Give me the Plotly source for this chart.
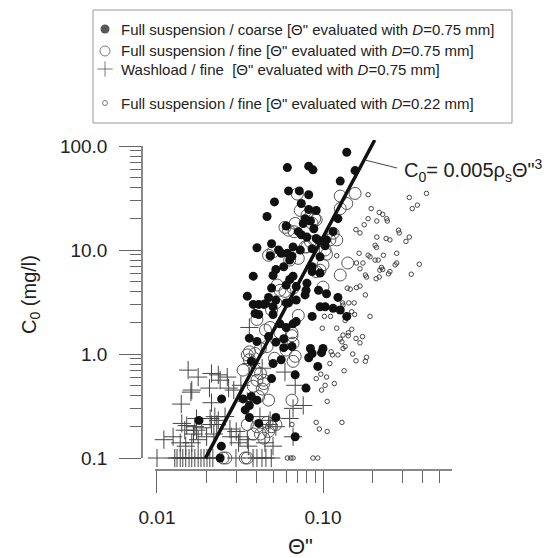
import plotly.graph_objects as go

# the page puts the figure 8 px in from the top-left corner, so the figure is
# 8 px smaller and every layout position (page px) is shifted back by OFF
OFF = 8
W, H = 554 - OFF, 558 - OFF

# ---------------- data ----------------
# Full suspension / coarse  (Theta'' with D = 0.75 mm)
coarse_theta = [
    0.061, 0.082, 0.087, 0.062, 0.082, 0.051, 0.074, 0.046, 0.091, 0.078,
    0.084, 0.076, 0.060, 0.088, 0.071, 0.074, 0.040, 0.049, 0.054, 0.048,
    0.061, 0.065, 0.073, 0.058, 0.052, 0.050, 0.038, 0.086, 0.096, 0.063,
    0.069, 0.049, 0.035, 0.079, 0.094, 0.047, 0.052, 0.038, 0.041, 0.044,
    0.062, 0.069, 0.139, 0.156, 0.127, 0.082, 0.123, 0.115, 0.091, 0.105,
    0.080, 0.103, 0.096, 0.086, 0.080, 0.105, 0.078, 0.123, 0.103, 0.096,
    0.115, 0.086, 0.127, 0.069, 0.139, 0.084, 0.082, 0.098, 0.100, 0.086,
    0.093, 0.068, 0.079, 0.068, 0.041, 0.039, 0.036, 0.040, 0.050, 0.055,
    0.060, 0.066, 0.047, 0.052, 0.058, 0.058, 0.065, 0.050, 0.056, 0.037,
    0.049, 0.0245, 0.033, 0.037, 0.040, 0.036, 0.034, 0.036, 0.0179, 0.041,
    0.052, 0.0244, 0.024, 0.045, 0.050, 0.060, 0.072, 0.094, 0.086, 0.066,
    0.063, 0.056, 0.066, 0.060,
]
coarse_c0 = [
    62, 64, 59, 37, 34, 29, 28, 21, 24, 20,
    19, 18, 17, 16, 15, 14, 10.5, 11.5, 10, 8.8,
    9.3, 8.7, 10, 6.9, 6.5, 5.7, 5.6, 6.9, 6.0, 5.2,
    4.45, 4.3, 3.6, 4.1, 4.1, 3.5, 3.3, 3.0, 3.0, 3.0,
    3.1, 3.3, 87, 58, 46, 24.5, 20, 15, 12.9, 12.5,
    13.3, 11, 8.6, 6.2, 4.8, 3.8, 3.7, 3.5, 2.85, 2.85,
    2.75, 2.3, 2.65, 2.05, 2.3, 1.13, 0.92, 1.03, 1.13, 1.01,
    0.76, 0.63, 0.47, 0.16, 2.4, 2.45, 1.42, 1.32, 2.4, 1.95,
    1.8, 1.95, 1.47, 1.3, 1.4, 1.15, 1.18, 0.81, 0.88, 0.85,
    0.58, 0.37, 0.37, 0.39, 0.36, 0.32, 0.29, 0.245, 0.23, 0.215,
    0.245, 0.13, 0.1, 3.05, 2.85, 3.1, 37, 12.4, 10.3, 10.7,
    8.0, 9.3, 5.6, 4.6,
]

# Full suspension / fine  (Theta'' with D = 0.75 mm)
fine_theta = [
    0.070, 0.073, 0.080, 0.089, 0.062, 0.059, 0.080, 0.084, 0.047, 0.050,
    0.063, 0.071, 0.055, 0.053, 0.103, 0.100, 0.096, 0.100, 0.156, 0.141,
    0.127, 0.127, 0.139, 0.127, 0.091, 0.121, 0.110, 0.115, 0.078, 0.105,
    0.091, 0.066, 0.059, 0.040, 0.035, 0.044, 0.052, 0.049, 0.048, 0.045,
    0.055, 0.065, 0.066, 0.060, 0.036, 0.039, 0.042, 0.046, 0.036, 0.051,
    0.033, 0.039, 0.042, 0.040, 0.038, 0.043, 0.044, 0.041, 0.047, 0.065,
    0.035, 0.040, 0.046, 0.049, 0.052, 0.042, 0.047, 0.038, 0.044, 0.025,
    0.026, 0.034, 0.035, 0.071, 0.065, 0.068, 0.066, 0.068, 0.086, 0.067,
]
fine_c0 = [
    34.5, 24, 21.5, 20, 15.5, 16.5, 10.7, 12, 8.9, 9.6,
    8.0, 8.3, 4.1, 4.6, 10, 7.2, 6.4, 4.4, 35, 7.5,
    5.75, 33, 28, 25, 19.5, 12.5, 12.5, 14.5, 10.7, 9.1,
    6.2, 4.3, 4.0, 2.15, 0.98, 0.52, 3.1, 2.65, 1.8, 1.7,
    1.6, 1.6, 1.27, 1.09, 1.05, 1.01, 1.13, 1.18, 0.88, 0.91,
    0.70, 0.70, 0.65, 0.56, 0.49, 0.46, 0.56, 0.39, 0.36, 0.36,
    0.21, 0.20, 0.22, 0.20, 0.21, 0.17, 0.18, 0.17, 0.155, 0.1,
    0.1, 0.1, 0.1, 2.35, 1.5, 0.95, 0.85, 18, 18, 15,
]

# Washload / fine  (Theta'' with D = 0.75 mm)
wash_theta = [
    0.0154, 0.0177, 0.0213, 0.0234, 0.024, 0.0265, 0.0162, 0.0160, 0.0207, 0.027,
    0.029, 0.0140, 0.0173, 0.0209, 0.0223, 0.0234, 0.0229, 0.0257, 0.0213, 0.0141,
    0.0151, 0.0147, 0.0169, 0.0173, 0.0186, 0.0166, 0.0110, 0.0125, 0.0138, 0.0149,
    0.0162, 0.0177, 0.0199, 0.022, 0.0275, 0.030, 0.0316, 0.031, 0.035, 0.028,
    0.0355, 0.0447, 0.050, 0.0417, 0.048, 0.052, 0.047, 0.066, 0.035, 0.032,
    0.037, 0.043, 0.059, 0.068, 0.076, 0.0213, 0.036, 0.063, 0.066,
    0.0100, 0.0128, 0.0132, 0.0138, 0.0143, 0.0149, 0.0156, 0.0162, 0.0169, 0.0177,
    0.0184, 0.0192, 0.0200, 0.0208, 0.0217, 0.0299, 0.0379, 0.0400, 0.0429, 0.0453,
    0.0488,
]
wash_c0 = [
    0.70, 0.60, 0.65, 0.63, 0.56, 0.60, 0.45, 0.43, 0.47, 0.47,
    0.45, 0.33, 0.24, 0.24, 0.25, 0.23, 0.21, 0.25, 0.21, 0.215,
    0.205, 0.185, 0.20, 0.185, 0.195, 0.17, 0.15, 0.16, 0.14, 0.13,
    0.14, 0.15, 0.16, 0.17, 0.19, 0.18, 0.16, 0.14, 0.15, 0.16,
    0.13, 0.14, 0.13, 0.25, 0.23, 0.20, 0.21, 0.30, 0.35, 0.50,
    0.81, 0.73, 0.67, 0.50, 0.32, 0.34, 1.8, 0.24, 0.16,
    0.1, 0.1, 0.1, 0.1, 0.1, 0.1, 0.1, 0.1, 0.1, 0.1,
    0.1, 0.1, 0.1, 0.1, 0.1, 0.1, 0.1, 0.1, 0.1, 0.1,
    0.1,
]

# Full suspension / fine  (Theta'' with D = 0.22 mm)
small_theta = [
    0.187, 0.331, 0.42, 0.37, 0.345, 0.195, 0.218, 0.229, 0.187, 0.211,
    0.242, 0.244, 0.177, 0.285, 0.288, 0.158, 0.167, 0.211, 0.24, 0.253,
    0.331, 0.316, 0.206, 0.210, 0.231, 0.187, 0.192, 0.278, 0.121, 0.165,
    0.159, 0.174, 0.206, 0.215, 0.278, 0.272, 0.38, 0.167, 0.225, 0.22,
    0.229, 0.253, 0.248, 0.18, 0.183, 0.209, 0.218, 0.34, 0.14, 0.146,
    0.159, 0.167, 0.18, 0.131, 0.143, 0.154,
    0.132, 0.102, 0.111, 0.136, 0.149, 0.155, 0.192, 0.099, 0.121, 0.149,
    0.142, 0.132, 0.142, 0.127, 0.130, 0.173, 0.158, 0.167, 0.136, 0.132,
    0.112, 0.114, 0.123, 0.151, 0.183, 0.18, 0.158, 0.11, 0.134, 0.097,
    0.105, 0.091, 0.103, 0.117, 0.098, 0.106, 0.091, 0.095, 0.106, 0.13,
    0.065, 0.061, 0.064, 0.066, 0.087, 0.093,
]
small_c0 = [
    34, 32, 35, 27, 25, 25, 23, 22, 20, 19,
    20, 19, 17.5, 15.5, 14.6, 15.7, 14.6, 13.3, 12.9, 12.5,
    13.3, 12.1, 11.1, 10.6, 8.9, 8.9, 8.6, 9.3, 8.8, 9.3,
    7.5, 7.5, 8.0, 8.0, 7.5, 7.2, 7.3, 6.6, 6.8, 6.4,
    6.5, 6.2, 5.9, 5.75, 5.5, 5.3, 5.5, 5.85, 4.3, 4.2,
    4.35, 4.5, 3.7, 3.1, 3.1, 3.1,
    2.95, 2.3, 2.3, 2.1, 2.55, 2.4, 2.3, 1.77, 1.77, 1.73,
    1.6, 1.52, 1.5, 1.39, 1.31, 1.47, 1.41, 1.28, 1.18, 1.13,
    1.05, 0.98, 0.98, 1.0, 0.93, 0.85, 0.86, 0.81, 0.69, 0.64,
    0.60, 0.58, 0.50, 0.52, 0.45, 0.35, 0.22, 0.19, 0.18, 0.22,
    0.21, 0.1, 0.1, 0.1, 0.1, 0.1,
]

# fitted relation C0 = 0.005 rho_s Theta''^3  (rho_s = 2650 kg/m3, result in mg/l)
rho_s = 2650
fit_theta = [0.0196, 0.205]
fit_c0 = [0.005 * rho_s * t ** 3 * 1000 for t in fit_theta]

x_major = [0.01, 0.1]
x_major_text = ["0.01", "0.10"]
x_minor = [0.02, 0.03, 0.04, 0.05, 0.06, 0.07, 0.08, 0.09, 0.2, 0.3, 0.4, 0.5]
y_major = [0.1, 1, 10, 100]
y_major_text = ["0.1", "1.0", "10.0", "100.0"]
y_minor = [0.2, 0.3, 0.4, 0.5, 0.6, 0.7, 0.8, 0.9,
           2, 3, 4, 5, 6, 7, 8, 9,
           20, 30, 40, 50, 60, 70, 80, 90]

legend_names = [
    'Full suspension / coarse [Θ" evaluated with <i>D</i>=0.75 mm]',
    'Full suspension / fine [Θ" evaluated with <i>D</i>=0.75 mm]',
    'Washload / fine  [Θ" evaluated with <i>D</i>=0.75 mm]',
    'Full suspension / fine [Θ" evaluated with <i>D</i>=0.22 mm]',
]
legend_rows = [29, 51, 69, 103]


def fx(p):
    return (p - OFF) / W


def fy(p):
    return 1 - (p - OFF) / H


FONT = "Arial, Liberation Sans, sans-serif"

fig = go.Figure()

# data on hidden main axes
fig.add_trace(go.Scatter(
    x=small_theta, y=small_c0, mode="markers",
    marker=dict(symbol="circle-open", size=4.5, color="#333", line=dict(width=0.9)),
    showlegend=False, hoverinfo="skip"))
fig.add_trace(go.Scatter(
    x=wash_theta, y=wash_c0, mode="markers",
    marker=dict(symbol="cross-thin-open", size=13, color="#444", line=dict(width=1)),
    showlegend=False, hoverinfo="skip"))
fig.add_trace(go.Scatter(
    x=fine_theta, y=fine_c0, mode="markers",
    marker=dict(symbol="circle-open", size=12, color="#555", line=dict(width=1)),
    showlegend=False, hoverinfo="skip"))
fig.add_trace(go.Scatter(
    x=coarse_theta, y=coarse_c0, mode="markers",
    marker=dict(symbol="circle", size=9, color="#111", line=dict(width=0)),
    showlegend=False, hoverinfo="skip"))
fig.add_trace(go.Scatter(
    x=fit_theta, y=fit_c0, mode="lines",
    line=dict(color="#111", width=3.5),
    showlegend=False, hoverinfo="skip"))

# empty trace so the visible (detached) axis pair is drawn
fig.add_trace(go.Scatter(x=[], y=[], xaxis="x2", yaxis="y2",
                         showlegend=False, hoverinfo="skip"))

# legend keys
fig.add_trace(go.Scatter(
    x=[105] * 4, y=legend_rows, xaxis="x3", yaxis="y3",
    mode="markers",
    marker=dict(symbol=["circle", "circle-open", "cross-thin-open", "circle-open"],
                size=[9, 10, 11, 5], color=["#111", "#444", "#444", "#444"],
                line=dict(width=[0, 1, 1, 1])),
    showlegend=False, hoverinfo="skip"))

axis_font = dict(family=FONT, size=19, color="#222")

fig.update_layout(
    width=W, height=H,
    margin=dict(l=0, r=0, t=0, b=0, pad=0),
    template="none",
    paper_bgcolor="white",
    plot_bgcolor="rgba(0,0,0,0)",
    showlegend=False,
    font=dict(family=FONT, color="#222"),
    xaxis=dict(type="log", domain=[fx(142), fx(460)], range=[-2.0904, -0.1747],
               visible=False, fixedrange=True),
    yaxis=dict(type="log", domain=[fy(470), fy(140)], range=[-1.1154, 2.0577],
               visible=False, fixedrange=True),
    xaxis2=dict(type="log", domain=[fx(155), fx(452)], range=[-2.012, -0.2229],
                anchor="free", position=fy(470),
                showline=True, linecolor="#888", linewidth=1.5,
                ticks="outside", ticklen=22, tickwidth=1, tickcolor="#666",
                tickvals=x_major, ticktext=x_major_text, tickfont=axis_font,
                ticklabelstandoff=8,
                minor=dict(ticks="outside", ticklen=12, tickwidth=1, tickcolor="#666",
                           tickvals=x_minor, showgrid=False),
                showgrid=False, zeroline=False, automargin=False, fixedrange=True),
    yaxis2=dict(type="log", domain=[fy(458), fy(146)], range=[-1, 2],
                anchor="free", position=fx(142), side="left",
                showline=True, linecolor="#888", linewidth=1.5,
                ticks="outside", ticklen=22, tickwidth=1, tickcolor="#666",
                tickvals=y_major, ticktext=y_major_text, tickfont=axis_font,
                ticklabelstandoff=8,
                minor=dict(ticks="outside", ticklen=11, tickwidth=1, tickcolor="#666",
                           tickvals=y_minor, showgrid=False),
                showgrid=False, zeroline=False, automargin=False, fixedrange=True),
    xaxis3=dict(domain=[fx(OFF), 1], range=[OFF, 554], visible=False, fixedrange=True),
    yaxis3=dict(domain=[0, fy(OFF)], range=[558, OFF], visible=False, fixedrange=True),
)

annotations = [
    dict(text="C<sub>0</sub> (mg/l)", x=fx(30), y=fy(295), textangle=-90,
         font=dict(family=FONT, size=20, color="#222")),
    dict(text='Θ"', x=fx(300), y=fy(546),
         font=dict(family=FONT, size=22, color="#222")),
    dict(text='C<sub>0</sub>= 0.005ρ<sub>s</sub>Θ"<sup>3</sup>', x=fx(402), y=fy(170),
         xanchor="left", font=dict(family=FONT, size=20, color="#222")),
]
for name, row in zip(legend_names, legend_rows):
    annotations.append(dict(text=name, x=fx(119), y=fy(row), xanchor="left",
                            font=dict(family=FONT, size=15, color="#222")))
for a in annotations:
    a.update(xref="paper", yref="paper", showarrow=False)
    a.setdefault("xanchor", "center")
    a.setdefault("yanchor", "middle")
fig.update_layout(annotations=annotations)

fig.update_layout(shapes=[
    # legend frame
    dict(type="rect", xref="paper", yref="paper",
         x0=fx(93), x1=fx(512), y0=fy(123), y1=fy(10),
         line=dict(color="#999", width=1), fillcolor="rgba(0,0,0,0)"),
    # leader line to the equation
    dict(type="line", xref="paper", yref="paper",
         x0=fx(365), y0=fy(160), x1=fx(397), y1=fy(168),
         line=dict(color="#444", width=1)),
])

fig.write_html("out.html")
